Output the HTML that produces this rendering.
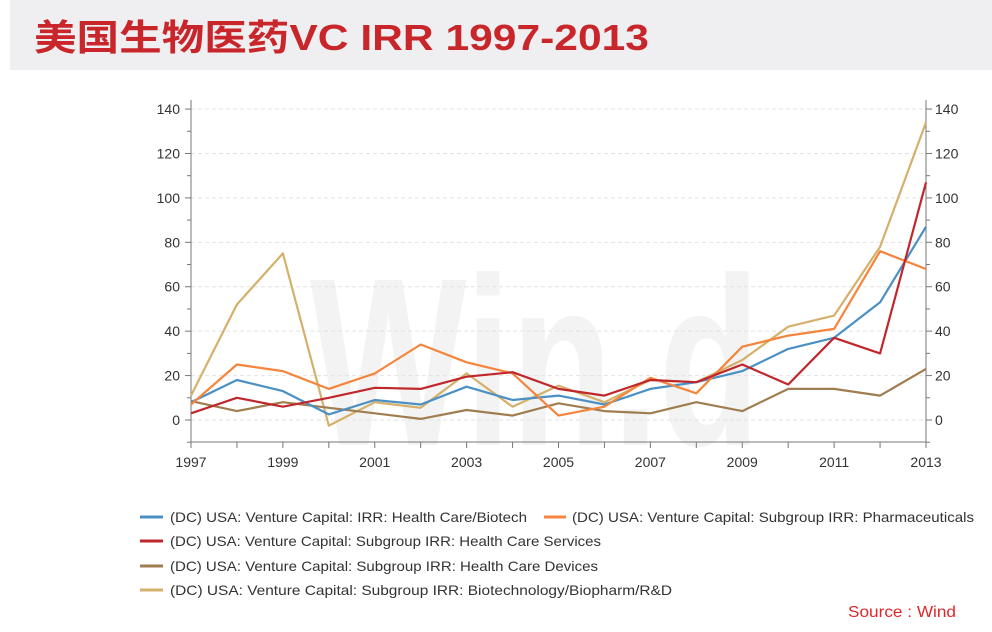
<!DOCTYPE html>
<html><head><meta charset="utf-8"><style>
html,body{margin:0;padding:0;background:#fff;width:992px;height:632px;overflow:hidden}
svg{display:block}
text{font-family:"Liberation Sans","Noto Sans CJK SC",sans-serif}
</style></head><body>
<svg id="s" width="992" height="632" xmlns="http://www.w3.org/2000/svg">
<rect x="10" y="0" width="982" height="70" fill="#efeff1"/>
<text x="34" y="50" font-size="36" font-weight="bold" fill="#c8262a" textLength="615" lengthAdjust="spacingAndGlyphs" font-family="'Liberation Sans','Noto Sans CJK SC',sans-serif">美国生物医药VC IRR 1997-2013</text>
<text x="310" y="445" font-size="240" font-weight="bold" fill="#f3f3f3" textLength="450" lengthAdjust="spacingAndGlyphs">Win.d</text>
<g id="grid"></g>
<g id="axes" stroke="#777" stroke-width="1" fill="none"></g>
<g id="labels" font-size="14" fill="#333"></g>
<g id="series" fill="none" stroke-width="2.2" stroke-linejoin="round"></g>
<g font-size="14" fill="#333">
<line x1="140" y1="517" x2="163" y2="517" stroke="#4a90c4" stroke-width="3"/>
<text x="170" y="522" textLength="357" lengthAdjust="spacingAndGlyphs">(DC) USA: Venture Capital: IRR: Health Care/Biotech</text>
<line x1="544" y1="517" x2="566" y2="517" stroke="#f5843c" stroke-width="3"/>
<text x="572" y="522" textLength="402" lengthAdjust="spacingAndGlyphs">(DC) USA: Venture Capital: Subgroup IRR: Pharmaceuticals</text>
<line x1="140" y1="541" x2="163" y2="541" stroke="#c0272d" stroke-width="3"/>
<text x="170" y="546" textLength="431" lengthAdjust="spacingAndGlyphs">(DC) USA: Venture Capital: Subgroup IRR: Health Care Services</text>
<line x1="140" y1="566" x2="163" y2="566" stroke="#a07d4f" stroke-width="3"/>
<text x="170" y="571" textLength="428" lengthAdjust="spacingAndGlyphs">(DC) USA: Venture Capital: Subgroup IRR: Health Care Devices</text>
<line x1="140" y1="590" x2="163" y2="590" stroke="#d4b06a" stroke-width="3"/>
<text x="170" y="595" textLength="502" lengthAdjust="spacingAndGlyphs">(DC) USA: Venture Capital: Subgroup IRR: Biotechnology/Biopharm/R&amp;D</text>
<text x="848" y="617" font-size="16" fill="#e0262a" textLength="108" lengthAdjust="spacingAndGlyphs">Source : Wind</text>
</g>
</svg>
<script>
var NS="http://www.w3.org/2000/svg";
function el(p,t,a,txt){var e=document.createElementNS(NS,t);for(var k in a)e.setAttribute(k,a[k]);if(txt!=null)e.textContent=txt;document.getElementById(p).appendChild(e);return e;}
var x0=191,x1=926,yz=420,k=2.221,yb=442;
function X(i){return x0+i*(x1-x0)/16;}
function Y(v){return yz-v*k;}
for(var v=0;v<=140;v+=20){
 el("grid","line",{x1:x0,x2:x1,y1:Y(v),y2:Y(v),stroke:"#e2e2e2","stroke-dasharray":"4,3"});
 el("labels","text",{x:180,y:Y(v)+5,"text-anchor":"end"},v);
 el("labels","text",{x:935,y:Y(v)+5},v);
}
el("axes","line",{x1:x0,x2:x0,y1:100,y2:yb});
el("axes","line",{x1:x1,x2:x1,y1:100,y2:yb});
el("axes","line",{x1:x0,x2:x1,y1:yb,y2:yb});
for(var v=-10;v<=140;v+=10){var w=v%20==0?6:4;
 el("axes","line",{x1:x0-w,x2:x0,y1:Y(v),y2:Y(v)});
 el("axes","line",{x1:x1,x2:x1+w,y1:Y(v),y2:Y(v)});}
for(var i=0;i<=16;i++){el("axes","line",{x1:X(i),x2:X(i),y1:yb,y2:yb+6});
 if(i%2==0)el("labels","text",{x:X(i),y:467,"text-anchor":"middle"},1997+i);}
var S=[
["#d4b06a",[11,52,75,-2.5,8,5.5,21,6,15.5,8,18,17,27,42,47,78,134]],
["#a07d4f",[8.5,4,8,5.5,3,0.5,4.5,2,7.5,4,3,8,4,14,14,11,23]],
["#4a90c4",[8,18,13,2.5,9,7,15,9,11,7,14,17,22,32,37,53,87]],
["#f5843c",[7,25,22,14,21,34,26,21,2,6,19,12,33,38,41,76,68]],
["#c0272d",[3,10,6,10,14.5,14,19.5,21.5,14,11,18,17,25,16,37,30,107]]
];
S.forEach(function(s){var d=s[1].map(function(v,i){return (i?"L":"M")+X(i).toFixed(1)+","+Y(v).toFixed(1)}).join("");
 el("series","path",{d:d,stroke:s[0]});});
</script>
</body></html>
